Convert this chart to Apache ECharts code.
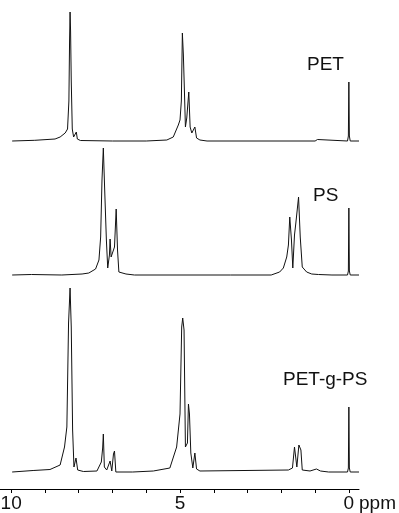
<!DOCTYPE html>
<html>
<head>
<meta charset="utf-8">
<style>
  html, body { margin: 0; padding: 0; background: #fff; }
  #chart { width: 399px; height: 513px; }
</style>
<script src="https://cdn.jsdelivr.net/npm/echarts@6/dist/echarts.min.js"></script>
</head>
<body>
<div id="chart"></div>
<script>
// [chemical shift (ppm), intensity]
const petPeaks = [
  [9.97, 0], [9.3, 0.7], [8.7, 2], [8.55, 4], [8.4, 8], [8.33, 12], [8.29, 40], [8.27, 100],
  [8.255, 129], [8.24, 110], [8.22, 60], [8.19, 12], [8.15, 4], [8.1, 3], [8.07, 9], [8.04, 2],
  [7.95, 0.5], [7.0, 0], [6.0, 0], [5.39, 1], [5.2, 4], [5.05, 16], [5.0, 21], [4.96, 40],
  [4.93, 108], [4.90, 86], [4.87, 51], [4.84, 14], [4.80, 23], [4.74, 49], [4.70, 14], [4.65, 8],
  [4.56, 14], [4.51, 3], [4.41, 1], [4.2, 0], [1.0, 0], [0.93, 1.5], [0.88, 0], [0.04, 0],
  [0.015, 5], [0, 59], [-0.015, 5], [-0.04, 0], [-0.3, 0]
]
const psPeaks = [
  [9.97, 0], [9.4, 0.5], [8.5, 0], [7.9, 1], [7.7, 2], [7.5, 6], [7.4, 15], [7.35, 38],
  [7.31, 95], [7.27, 127], [7.23, 85], [7.18, 35], [7.14, 7], [7.09, 20], [7.07, 36], [7.04, 18],
  [6.99, 20], [6.94, 28], [6.89, 66], [6.85, 25], [6.81, 3], [6.6, 1], [6.35, 0], [3.5, 0],
  [2.3, 0], [2.05, 3], [1.94, 7], [1.84, 18], [1.79, 30], [1.75, 58], [1.70, 35], [1.66, 7],
  [1.61, 40], [1.57, 52], [1.49, 78], [1.44, 38], [1.38, 8], [1.25, 3], [1.1, 1], [0.9, 0.5],
  [0.5, 0], [0.04, 0], [0.015, 4], [0, 67], [-0.015, 4], [-0.04, 0], [-0.3, 0]
]
const graftPeaks = [
  [9.97, 0], [9.35, 1.5], [8.85, 2.5], [8.55, 7], [8.42, 25], [8.35, 45], [8.30, 149], [8.255, 184],
  [8.22, 145], [8.18, 42], [8.14, 5], [8.08, 14], [8.03, 2], [7.86, 0.5], [7.46, 1], [7.33, 10],
  [7.29, 24], [7.27, 38], [7.24, 5], [7.17, 2], [7.07, 11], [7.02, 1], [6.97, 18], [6.94, 21],
  [6.90, 0], [6.4, 0], [5.79, 1], [5.3, 4], [5.1, 25], [5.0, 58], [4.95, 145], [4.92, 154],
  [4.88, 142], [4.84, 25], [4.78, 29], [4.75, 68], [4.72, 58], [4.68, 19], [4.62, 4], [4.56, 19],
  [4.51, 3], [4.41, 1], [4.36, 0], [1.79, 2], [1.67, 4], [1.61, 25], [1.57, 24], [1.54, 5],
  [1.48, 27], [1.45, 29], [1.42, 22], [1.38, 2], [1.15, 1], [0.96, 3], [0.91, 5], [0.84, 1],
  [0.6, 0], [0.04, 0], [0.015, 4], [0, 65], [-0.015, 4], [-0.04, 0], [-0.3, 0]
]
const sampleNames = ['PET', 'PS', 'PET-g-PS']
const tickValues = [10, 9, 8, 7, 6, 5, 4, 3, 2, 1, 0]
const labelValues = [10, 5, 0]

// vertical stacking of the traces
const offsets = [348, 214, 17]
const font = 'Liberation Sans, Arial, sans-serif'

const stack = (peaks, off) => peaks.map(p => [p[0], p[1] + off])

const chart = echarts.init(document.getElementById('chart'))
chart.setOption({
  animation: false,
  grid: { left: 0, right: 40, top: 0, bottom: 24, containLabel: false, outerBoundsMode: 'none' },
  xAxis: {
    type: 'value',
    inverse: true,
    min: -0.3,
    max: 10.33,
    splitLine: { show: false },
    axisLine: { lineStyle: { color: '#000', width: 1 } },
    axisTick: { customValues: tickValues, length: 4, lineStyle: { color: '#000' } },
    axisLabel: {
      customValues: labelValues,
      margin: 5,
      color: '#111',
      fontSize: 19,
      fontFamily: font,
      hideOverlap: false
    }
  },
  yAxis: { type: 'value', show: false, min: 0, max: 489 },
  series: [petPeaks, psPeaks, graftPeaks].map((peaks, i) => ({
    name: sampleNames[i],
    type: 'line',
    showSymbol: false,
    silent: true,
    clip: false,
    lineStyle: { color: '#111', width: 1 },
    data: stack(peaks, offsets[i])
  })),
  graphic: [
    { type: 'text', x: 307, y: 65, style: { text: sampleNames[0], fontSize: 19, fontFamily: font, fill: '#111', verticalAlign: 'middle' } },
    { type: 'text', x: 313, y: 196, style: { text: sampleNames[1], fontSize: 19, fontFamily: font, fill: '#111', verticalAlign: 'middle' } },
    { type: 'text', x: 283, y: 380, style: { text: sampleNames[2], fontSize: 19, fontFamily: font, fill: '#111', verticalAlign: 'middle' } },
    { type: 'text', x: 359, y: 504, style: { text: 'ppm', fontSize: 19, fontFamily: font, fill: '#111', verticalAlign: 'middle' } }
  ]
})
</script>
</body>
</html>
